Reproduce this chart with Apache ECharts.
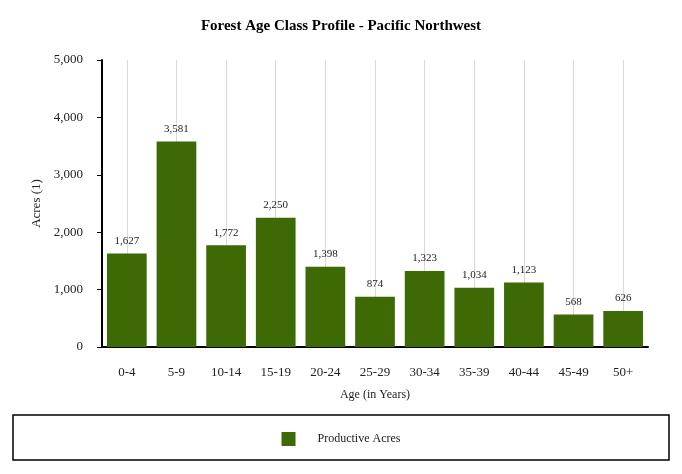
<!DOCTYPE html>
<html><head><meta charset="utf-8">
<script src="https://cdn.jsdelivr.net/npm/echarts@6/dist/echarts.min.js"></script>
<style>html,body{margin:0;padding:0;background:#fff}#c{width:682px;height:474px}</style>
</head><body><div id="c"></div>
<script>
const categories = ['0-4','5-9','10-14','15-19','20-24','25-29','30-34','35-39','40-44','45-49','50+'];
const productiveAcres = [1627, 3581, 1772, 2250, 1398, 874, 1323, 1034, 1123, 568, 626];
const yTicks = [0, 1000, 2000, 3000, 4000, 5000];

const F = 'Liberation Serif, Times New Roman, serif';
const chart = echarts.init(document.getElementById('c'), null, {renderer: 'canvas'});
chart.setOption({
  animation: false,
  textStyle: {fontFamily: F},
  title: {text: 'Forest Age Class Profile - Pacific Northwest', left: 'center', top: 14,
    textStyle: {fontFamily: F, fontSize: 15, fontWeight: 'bold', color: '#000'}},
  grid: {left: 102, right: 34, top: 60, bottom: 127},
  graphic: [{type: 'rect', shape: {x: 13, y: 415, width: 656, height: 45},
    style: {fill: 'none', stroke: '#000', lineWidth: 1.5}, z: 0}],
  legend: {data: ['Productive Acres'], left: 'center', top: 427, itemWidth: 14, itemHeight: 14,
    icon: 'rect', itemGap: 10,
    textStyle: {fontFamily: F, fontSize: 12, color: '#222', padding: [0, 0, 0, 17]}},
  xAxis: {type: 'category', data: categories, name: 'Age (in Years)', nameLocation: 'middle', nameGap: 42,
    nameTextStyle: {fontFamily: F, fontSize: 12, color: '#222'},
    axisLine: {lineStyle: {color: '#000', width: 2}},
    axisTick: {alignWithLabel: true, length: 5, lineStyle: {color: '#555'}},
    axisLabel: {fontFamily: F, fontSize: 13, color: '#222', margin: 19},
    splitLine: {show: true, alignWithLabel: true, lineStyle: {color: '#d9d9d9', width: 1}}},
  yAxis: {type: 'value', min: yTicks[0], max: yTicks[yTicks.length - 1], interval: 1000,
    name: 'Acres (1)', nameLocation: 'middle', nameGap: 54,
    nameTextStyle: {fontFamily: F, fontSize: 13, color: '#222'},
    axisLine: {show: true, lineStyle: {color: '#000', width: 2}},
    axisTick: {show: true, length: 5, lineStyle: {color: '#000'}},
    axisLabel: {fontFamily: F, fontSize: 13, color: '#222', margin: 19,
      formatter: v => v.toLocaleString('en-US')},
    splitLine: {show: false}},
  series: [{name: 'Productive Acres', type: 'bar', data: productiveAcres, barCategoryGap: '20%',
    itemStyle: {color: '#3d6a04'},
    label: {show: true, position: 'top', distance: 7, fontFamily: F, fontSize: 11, color: '#222',
      formatter: p => p.value.toLocaleString('en-US')}}]
});
</script></body></html>
